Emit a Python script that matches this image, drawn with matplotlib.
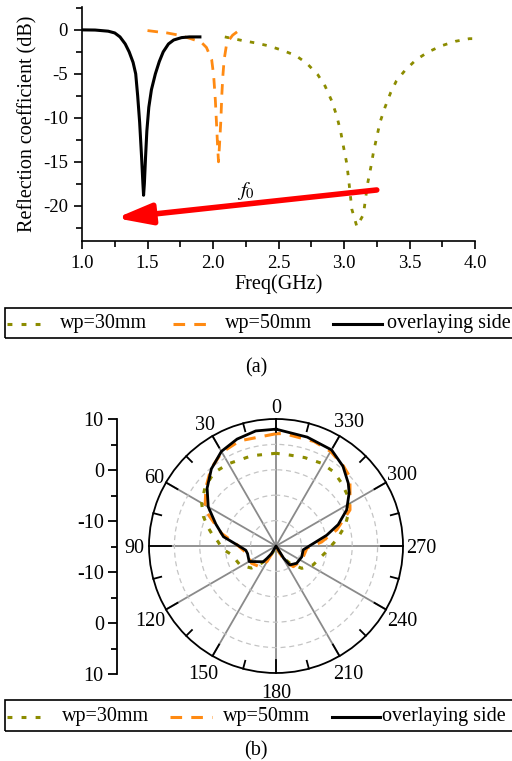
import numpy as np
import matplotlib
matplotlib.use('Agg')
import matplotlib.pyplot as plt
from matplotlib.ticker import MultipleLocator
from matplotlib.lines import Line2D
from matplotlib.patches import Rectangle

plt.rcParams['font.family'] = ['Liberation Serif', 'DejaVu Serif']
plt.rcParams['mathtext.fontset'] = 'stix'

OLIVE = '#8c8c00'
ORANGE = '#ff8a12'

# ---- (a) reflection coefficient ----
f_black = [1.0, 1.10, 1.20, 1.25, 1.29, 1.33, 1.36, 1.39, 1.41, 1.425, 1.44, 1.455, 1.465, 1.47,
           1.476, 1.485, 1.495, 1.51, 1.53, 1.56, 1.59, 1.62, 1.66, 1.70, 1.76, 1.82, 1.90]
s_black = [0.0, -0.02, -0.15, -0.35, -0.8, -1.6, -2.5, -3.7, -5.0, -7.5, -10.5, -14.5, -17.5, -18.8,
           -17.5, -14.5, -11.5, -8.8, -6.8, -5.0, -3.6, -2.5, -1.6, -1.15, -0.88, -0.8, -0.8]

f_orange = [1.50, 1.58, 1.65, 1.74, 1.83, 1.91, 1.95, 1.99, 2.005, 2.018, 2.028, 2.035, 2.042, 2.05, 2.06, 2.067, 2.075, 2.085, 2.105, 2.15, 2.20]
s_orange = [-0.08, -0.23, -0.35, -0.6, -1.0, -1.4, -2.0, -3.4, -5.2, -8.0, -11.0, -13.2, -15.0, -13.0, -10.3, -7.5, -5.3, -3.4, -1.5, -0.6, -0.05]

f_olive = [2.09, 2.22, 2.33, 2.42, 2.525, 2.63, 2.716, 2.80, 2.856, 2.907, 2.945, 2.975, 2.995, 3.02, 3.034, 3.06, 3.098,
           3.148, 3.18, 3.205, 3.225, 3.25, 3.275, 3.313, 3.357, 3.40, 3.466, 3.55, 3.644, 3.746, 3.85, 3.957, 4.0]
s_olive = [-0.8, -1.2, -1.5, -1.8, -2.3, -2.9, -3.8, -5.1, -6.4, -8.1, -9.8, -11.6, -13.2, -15.1, -16.8, -20.4, -22.35,
           -21.0, -17.5, -15.6, -13.9, -12.2, -10.5, -8.8, -7.1, -5.8, -4.6, -3.4, -2.5, -1.8, -1.3, -1.0, -1.0]

# ---- (b) radiation pattern (deg, dB) ----
th_black = [0, 10, 20, 30, 40, 50, 60, 70, 80, 90, 98, 105, 120, 129, 141, 144, 150, 156, 180, 204, 212, 216,
            230, 247, 262, 274, 282, 289, 297, 306, 311, 320, 330, 344, 360]
r_black = [8.0, 8.0, 7.4, 6.5, 4.8, 2.7, 0.4, -2.4, -4.5, -7.7, -9.0, -9.2, -8.9, -10.1, -11.0, -12.0, -13.3, -15, -15, -15,
           -12.2, -10.4, -9.7, -9.5, -9.6, -7.6, -4.8, -2.05, 0.6, 2.8, 3.85, 5.5, 6.85, 7.3, 8.0]

th_orange = [0, 19, 30, 40, 50, 63, 77, 88, 104, 125, 142, 150, 158, 180, 202, 210, 220, 241, 266, 275, 285, 296,
             313, 320, 330, 340, 356, 360]
r_orange = [7.1, 6.9, 6.3, 4.9, 3.0, 0.7, -4.0, -7.3, -9.1, -9.1, -9.8, -11.5, -14.5, -15, -14.5, -11.5, -9.7, -9.2,
            -8.9, -6.0, -2.6, 1.2, 4.9, 5.6, 6.5, 6.9, 7.2, 7.1]

th_olive = [0, 15, 30, 40, 50, 60, 68, 75, 80, 86, 93, 101, 118, 132, 140, 150, 165, 180, 195, 210, 219, 229, 243,
            262, 276, 286, 296, 304, 314, 322, 331, 342, 351, 360]
r_olive = [3.25, 3.4, 3.7, 3.9, 3.2, 1.9, 0.4, -1.2, -2.3, -3.6, -4.4, -6.1, -7.0, -8.5, -10.6, -12.5, -14.5, -15, -14.5,
           -12.5, -10.6, -8.3, -6.8, -5.25, -3.0, -0.9, 1.1, 2.2, 2.9, 3.5, 3.6, 3.3, 3.1, 3.25]

theta_labels = [0, 30, 60, 90, 120, 150, 180, 210, 240, 270, 300, 330]
scale_pos = [25, 15, 5, -5, -15, -25]
scale_labels = ['10', '0', '-10', '-10', '0', '10']
legend_names = ['wp=30mm', 'wp=50mm', 'overlaying side']

W, H = 512, 761
fig = plt.figure(figsize=(W / 100, H / 100), dpi=100)


def fx(px):
    return px / W


def fy(py):
    return 1 - py / H


ax = fig.add_axes([fx(82), fy(241), fx(475) - fx(82), fy(7) - fy(241)])
ax.plot(f_olive, s_olive, color=OLIVE, lw=2.0, dashes=(1.6, 3.0))
ax.plot(f_orange, s_orange, color=ORANGE, lw=2.0, dashes=(3.8, 3.0))
ax.plot(f_black, s_black, color='black', lw=2.2)
ax.set_xlim(1.0, 4.0)
ax.set_ylim(-24, 2.6)
ax.xaxis.set_minor_locator(MultipleLocator(0.25))
ax.yaxis.set_minor_locator(MultipleLocator(2.5))
ax.set_yticks([0, -5, -10, -15, -20])
ax.set_yticklabels(['0', '-5', '-10', '-15', '-20'])
ax.set_xticks([1.0, 1.5, 2.0, 2.5, 3.0, 3.5, 4.0])
ax.set_xticklabels(['1.0', '1.5', '2.0', '2.5', '3.0', '3.5', '4.0'])
for s in ['top', 'right']:
    ax.spines[s].set_visible(False)
for s in ['left', 'bottom']:
    ax.spines[s].set_linewidth(1.2)
ax.tick_params(which='major', direction='out', length=6, width=1.2, labelsize=13.5, pad=4)
ax.tick_params(which='minor', direction='out', length=4, width=1.2)
ax.set_xlabel('Freq(GHz)', fontsize=14.5, labelpad=2)
ax.set_ylabel('Reflection coefficient (dB)', fontsize=14.5, labelpad=4)
ax.annotate('', xy=(1.26, -21.4), xytext=(3.25, -18.2),
            arrowprops=dict(arrowstyle='-|>,head_length=1.0,head_width=0.3', color='red', lw=4,
                            mutation_scale=21, shrinkA=0, shrinkB=0))
ax.text(2.25, -18.3, r'$f_0$', fontsize=15, ha='center', va='center')

# ---- polar ----
cx, cy, rad = 276, 546, 127
pax = fig.add_axes([fx(cx - rad), fy(cy + rad), 2 * rad / W, 2 * rad / H], projection='polar')
pax.set_theta_zero_location('N')
pax.set_theta_direction(1)
pax.set_ylim(-15, 10)
pax.set_xticks(np.deg2rad(np.arange(0, 360, 30)))
pax.set_xticklabels([])
pax.set_yticks([-10, -5, 0, 5])
pax.set_yticklabels([])
pax.xaxis.grid(True, color='#8a8a8a', lw=1.3, ls='-')
pax.yaxis.grid(True, color='#c4c4c4', lw=0.9, ls=(0, (4, 3)))
pax.spines['polar'].set_linewidth(1.3)
pax.plot(np.deg2rad(th_olive), r_olive, color=OLIVE, lw=2.2, dashes=(1.6, 3.0), zorder=3)
pax.plot(np.deg2rad(th_orange), r_orange, color=ORANGE, lw=2.2, dashes=(3.8, 3.0), zorder=4)
pax.plot(np.deg2rad(th_black), r_black, color='black', lw=2.0, zorder=5)
for a in range(0, 360, 15):
    if a % 90 == 0 and a % 180 != 0:
        ln = 4.4
    elif a % 30 == 0:
        ln = 2.6
    else:
        ln = 1.6
    pax.plot([np.deg2rad(a)] * 2, [10, 10 - ln], color='black', lw=1.3, clip_on=False, zorder=6)
for a in theta_labels:
    d = 13.6 if a >= 100 else 12.6
    if a == 90:
        d = 12.9
    if a == 30:
        d = 13.0
    pax.text(np.deg2rad(a), d, str(a), fontsize=14.5, ha='center', va='center_baseline')

# left radial scale
sax = fig.add_axes([fx(117), fy(674), 0.001, fy(419) - fy(674)])
sax.set_ylim(-25, 25)
sax.set_xticks([])
sax.set_yticks(scale_pos)
sax.set_yticklabels(scale_labels)
sax.yaxis.set_minor_locator(plt.FixedLocator([20, 10, 0, -10, -20]))
for s in ['top', 'right', 'bottom']:
    sax.spines[s].set_visible(False)
sax.spines['left'].set_linewidth(1.3)
sax.tick_params(which='major', direction='out', length=6.5, width=1.3, labelsize=14.5, pad=3)
sax.tick_params(which='minor', direction='out', length=4.3, width=1.3)
sax.patch.set_visible(False)


# ---- legends and captions ----
def legend_box(top, bottom, base, xs):
    fig.add_artist(Rectangle((fx(5), fy(bottom)), fx(520), fy(top) - fy(bottom), transform=fig.transFigure,
                             fill=False, ec='black', lw=1.2))
    styles = [dict(color=OLIVE, lw=2.2, dashes=(1.6, 3.0)), dict(color=ORANGE, lw=2.2, dashes=(3.8, 3.0)),
              dict(color='black', lw=2.2)]
    ymid = fy((top + bottom) / 2 + 1)
    for (x0, x1, xt), st, name in zip(xs, styles, legend_names):
        fig.add_artist(Line2D([fx(x0), fx(x1)], [ymid, ymid], transform=fig.transFigure, **st))
        fig.text(fx(xt), fy(base), name, fontsize=14.5, ha='left', va='baseline')


legend_box(308, 338, 328, [(7, 43, 60), (173, 213, 225), (333, 382, 387)])
legend_box(700, 731, 721, [(7, 45, 62), (170, 212, 223), (332, 380, 382)])
fig.text(0.5, fy(372), '(a)', fontsize=14.5, ha='center', va='baseline')
fig.text(0.5, fy(755), '(b)', fontsize=14.5, ha='center', va='baseline')

fig.savefig('out.png', dpi=100)
